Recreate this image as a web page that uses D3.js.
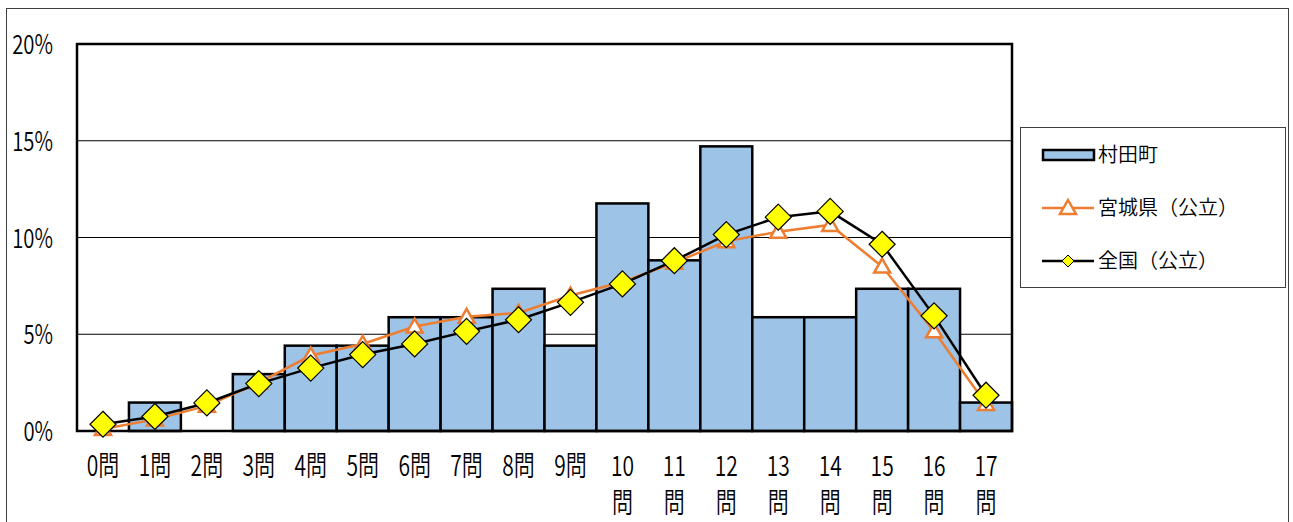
<!DOCTYPE html>
<html>
<head>
<meta charset="utf-8">
<script src="https://cdn.jsdelivr.net/npm/d3@7"></script>
<style>
  body { margin: 0; background: #fff; }
  svg { display: block; font-family: "Noto Sans CJK JP", sans-serif; font-weight: 350; }
</style>
</head>
<body>
<div id="chart"></div>
<script>
// data
const categories = ["0問", "1問", "2問", "3問", "4問", "5問", "6問", "7問", "8問", "9問",
  "10問", "11問", "12問", "13問", "14問", "15問", "16問", "17問"];
// 村田町 (n = 68)
const town = [0, 1.47, 0, 2.94, 4.41, 4.41, 5.88, 5.88, 7.35, 4.41,
  11.76, 8.82, 14.71, 5.88, 5.88, 7.35, 7.35, 1.47];
const miyagi = [0.1, 0.6, 1.3, 2.5, 3.9, 4.5, 5.4, 5.9, 6.1, 7.0,
  7.7, 8.7, 9.8, 10.3, 10.65, 8.5, 5.15, 1.4];
const national = [0.35, 0.75, 1.45, 2.45, 3.25, 3.95, 4.5, 5.15, 5.75, 6.65,
  7.6, 8.8, 10.15, 11.05, 11.35, 9.65, 5.95, 1.85];
const yTicks = [0, 5, 10, 15, 20];
const seriesNames = ["村田町", "宮城県（公立）", "全国（公立）"];

const W = 1293, H = 522;
const PLOT = { left: 77, right: 1012, top: 44, bottom: 431 };
const BAR_FILL = "#9dc3e6";
const ORANGE = "#ed7d31";

const svg = d3.select("#chart").append("svg").attr("width", W).attr("height", H);

// outer frame
svg.append("rect")
  .attr("x", 6.5).attr("y", 8.5).attr("width", 1282).attr("height", 530)
  .attr("fill", "none").attr("stroke", "#404040").attr("stroke-width", 1);

// scales
const x = d3.scaleBand().domain(categories).range([PLOT.left, PLOT.right]).padding(0);
const y = d3.scaleLinear().domain([0, 20]).range([PLOT.bottom, PLOT.top]);

// gridlines
svg.append("g").selectAll("line")
  .data(yTicks.slice(1, -1))
  .join("line")
  .attr("x1", PLOT.left).attr("x2", PLOT.right)
  .attr("y1", d => y(d)).attr("y2", d => y(d))
  .attr("stroke", "#000").attr("stroke-width", 1);

// y labels
svg.append("g").selectAll("text")
  .data(yTicks)
  .join("text")
  .attr("transform", d => `translate(53, ${y(d) + 10}) scale(0.75, 1)`)
  .attr("text-anchor", "end")
  .attr("font-size", 27)
  .text(d => `${d}%`);

// bars
svg.append("g").selectAll("rect")
  .data(town.map((v, i) => ({ v, c: categories[i] })).filter(d => d.v > 0))
  .join("rect")
  .attr("x", d => x(d.c))
  .attr("y", d => y(d.v))
  .attr("width", x.bandwidth())
  .attr("height", d => y(0) - y(d.v))
  .attr("fill", BAR_FILL)
  .attr("stroke", "#000").attr("stroke-width", 2.5);

// plot border
svg.append("rect")
  .attr("x", PLOT.left).attr("y", PLOT.top)
  .attr("width", PLOT.right - PLOT.left).attr("height", PLOT.bottom - PLOT.top)
  .attr("fill", "none").attr("stroke", "#000").attr("stroke-width", 2.5);

const cx = i => x(categories[i]) + x.bandwidth() / 2;
const line = d3.line().x((d, i) => cx(i)).y(d => y(d));

const triPath = "M0,-8L8,6L-8,6Z";
const diamondPath = "M0,-13L13,0L0,13L-13,0Z";

// 宮城県
svg.append("path").datum(miyagi)
  .attr("d", line).attr("fill", "none")
  .attr("stroke", ORANGE).attr("stroke-width", 2.5);
svg.append("g").selectAll("path")
  .data(miyagi)
  .join("path")
  .attr("transform", (d, i) => `translate(${cx(i)}, ${y(d)})`)
  .attr("d", triPath)
  .attr("fill", "#fff").attr("stroke", ORANGE).attr("stroke-width", 2.5);

// 全国
svg.append("path").datum(national)
  .attr("d", line).attr("fill", "none")
  .attr("stroke", "#000").attr("stroke-width", 2.5);
svg.append("g").selectAll("path")
  .data(national)
  .join("path")
  .attr("transform", (d, i) => `translate(${cx(i)}, ${y(d)})`)
  .attr("d", diamondPath)
  .attr("fill", "#ffff00").attr("stroke", "#000").attr("stroke-width", 1.2);

// category labels (two-digit ones wrap 問 onto a second line)
const labels = svg.append("g").selectAll("g")
  .data(categories)
  .join("g")
  .attr("transform", d => `translate(${x(d) + x.bandwidth() / 2}, 0)`);
labels.each(function (d) {
  const g = d3.select(this);
  const num = d.replace("問", "");
  const lines = num.length === 1 ? [d] : [num, "問"];
  lines.forEach((t, k) => {
    g.append("text")
      .attr("transform", `translate(0, ${k === 0 ? 476 : 513}) scale(0.75, 1)`)
      .attr("text-anchor", "middle").attr("font-size", 28)
      .text(t);
  });
});

// legend
const lg = svg.append("g");
lg.append("rect")
  .attr("x", 1020.5).attr("y", 127.5).attr("width", 265).attr("height", 160)
  .attr("fill", "#fff").attr("stroke", "#404040").attr("stroke-width", 1);

const rowY = [155, 208, 261];
lg.append("rect")
  .attr("x", 1043).attr("y", rowY[0] - 5).attr("width", 51).attr("height", 10)
  .attr("fill", BAR_FILL).attr("stroke", "#000").attr("stroke-width", 2.5);
lg.append("line")
  .attr("x1", 1042).attr("x2", 1094).attr("y1", rowY[1]).attr("y2", rowY[1])
  .attr("stroke", ORANGE).attr("stroke-width", 2.5);
lg.append("path")
  .attr("transform", `translate(1068, ${rowY[1]})`)
  .attr("d", triPath)
  .attr("fill", "#fff").attr("stroke", ORANGE).attr("stroke-width", 2.5);
lg.append("line")
  .attr("x1", 1042).attr("x2", 1094).attr("y1", rowY[2]).attr("y2", rowY[2])
  .attr("stroke", "#000").attr("stroke-width", 2.5);
lg.append("path")
  .attr("transform", `translate(1068, ${rowY[2]})`)
  .attr("d", "M0,-6L6,0L0,6L-6,0Z")
  .attr("fill", "#ffff00").attr("stroke", "#000").attr("stroke-width", 1);

lg.selectAll("text.lab")
  .data(seriesNames)
  .join("text")
  .attr("class", "lab")
  .attr("x", 1098)
  .attr("y", (d, i) => rowY[i] + 7)
  .attr("font-size", 20)
  .text(d => d);
</script>
</body>
</html>
